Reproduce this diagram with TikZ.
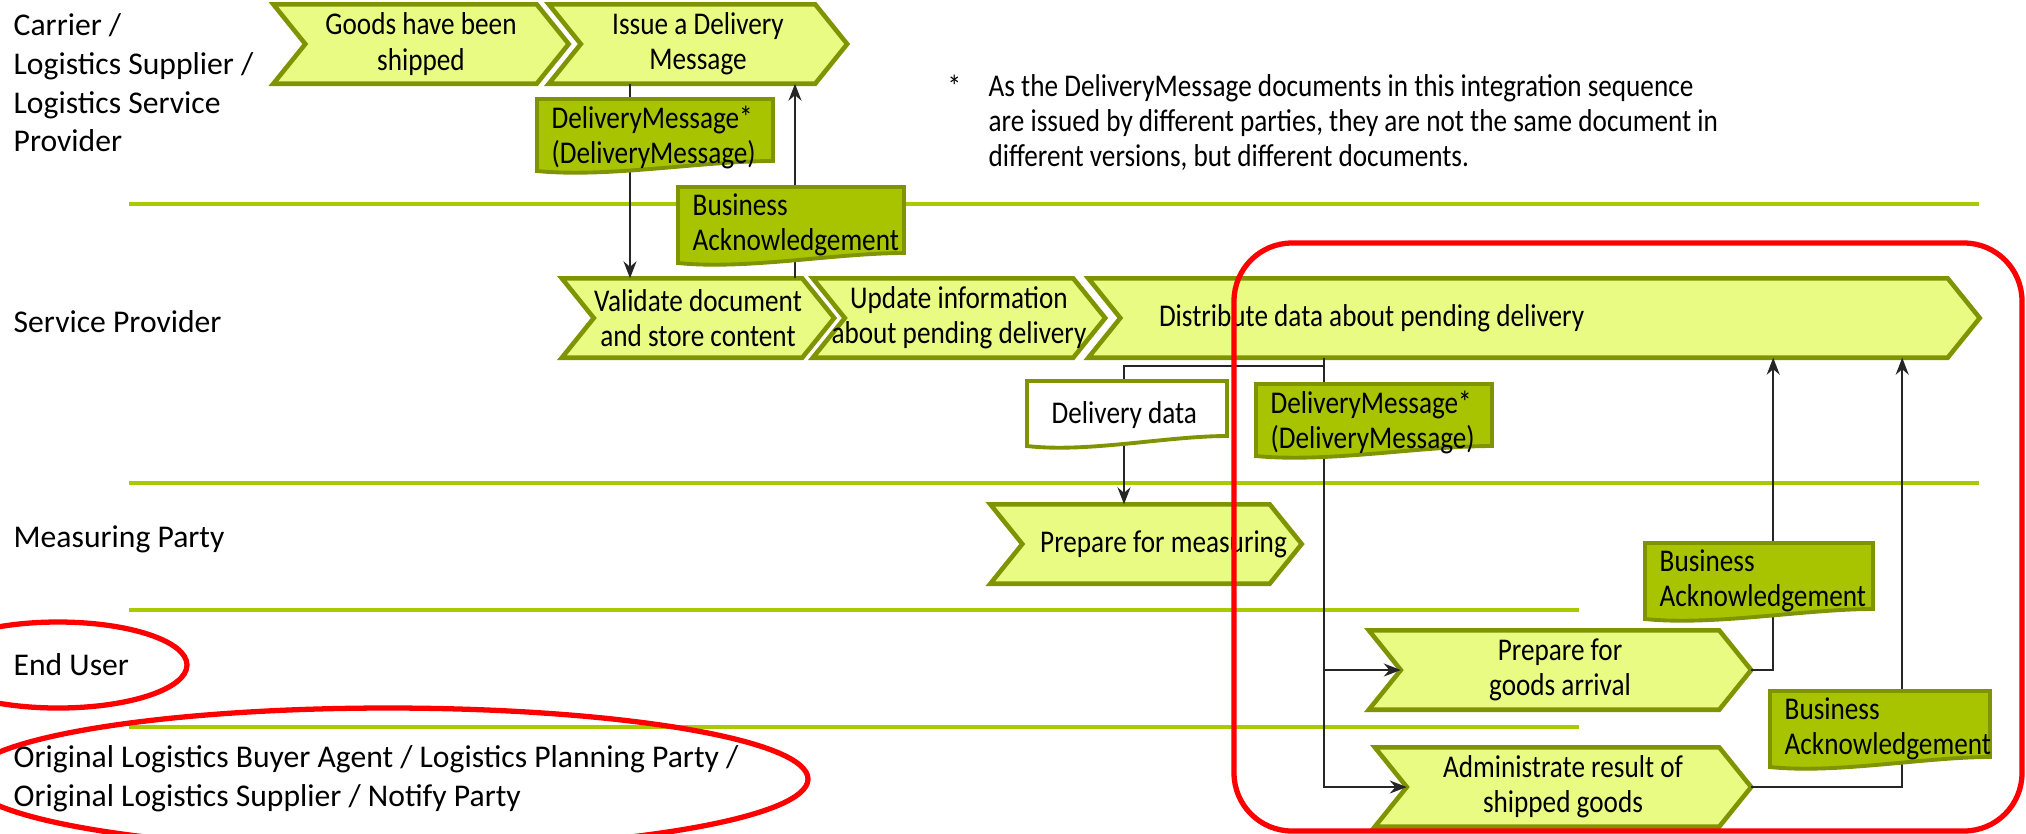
\documentclass[tikz,border=0pt]{standalone}
\usepackage{fontspec}
\setmainfont{Carlito}
\newfontfamily\boxfont{Carlito}[FakeStretch=0.86]
\usetikzlibrary{arrows,arrows.meta,shapes,positioning,calc,backgrounds}

\definecolor{chevfill}{HTML}{EAFB84}
\definecolor{chevedge}{HTML}{7F9400}
\definecolor{docgreen}{HTML}{A8C400}
\definecolor{lanegreen}{HTML}{AACA00}

\def\tipd{0.32cm}

% chevron outline behind a named node
\newcommand{\chevron}[1]{%
  \begin{pgfonlayer}{background}
    \draw[chevline] (#1.north west) -- ([xshift=-\tipd]#1.north east) -- (#1.east)
      -- ([xshift=-\tipd]#1.south east) -- (#1.south west) -- ([xshift=\tipd]#1.west) -- cycle;
  \end{pgfonlayer}}

% document with wavy bottom: x, y (top), width, body height, fill
\newcommand{\docshape}[5]{%
  \pgfmathsetmacro\xr{#1+#3}
  \pgfmathsetmacro\yb{#2-#4}
  \draw[docline, fill=#5] (#1,#2) -- (\xr,#2) -- (\xr,\yb)
    .. controls ({\xr-0.3*#3},\yb) and ({#1+0.3*#3},\yb-0.17) .. (#1,\yb-0.1) -- cycle;}

\begin{document}
\begin{tikzpicture}[>={Stealth[length=1.7mm,width=1.3mm]},font=\boxfont\fontsize{9}{10}\selectfont,
  chev/.style={minimum height=0.78cm,inner sep=0pt,align=center},
  chevline/.style={draw=chevedge,line width=1.3pt,fill=chevfill,line join=miter},
  docline/.style={draw=chevedge,line width=1.1pt},
  doc/.style={align=left,inner xsep=0.14cm,inner ysep=0.06cm},
  lane/.style={anchor=west,align=left,inner sep=0pt,font=\rmfamily\fontsize{9}{11}\selectfont},
  note/.style={inner sep=0pt},
  sep/.style={draw=lanegreen,line width=1.3pt},
  flow/.style={->,black!85,line width=0.5pt},
  redline/.style={draw=red,line width=1.5pt}]
\useasboundingbox (0,0) rectangle (20.26,-8.33);

% lanes
\node[lane] (carrier) at (0.13,-0.83) {Carrier /\\Logistics Supplier /\\Logistics Service\\Provider};
\node[lane] (provider) at (0.13,-3.22) {Service Provider};
\node[lane] (measurer) at (0.13,-5.39) {Measuring Party};
\node[lane] (enduser) at (0.13,-6.65) {End User};
\node[lane] (buyer) at (0.13,-7.79) {Original Logistics Buyer Agent / Logistics Planning Party /\\Original Logistics Supplier / Notify Party};
\draw[sep] (1.29,-2.04) -- (19.79,-2.04);
\draw[sep] (1.29,-4.83) -- (19.79,-4.83);
\draw[sep] (1.29,-6.10) -- (15.79,-6.10);
\draw[sep] (1.29,-7.27) -- (15.79,-7.27);

% process steps
\node[chev,minimum width=2.94cm] (goods) at (4.21,-0.44) {Goods have been\\shipped};
\node[chev,minimum width=2.97cm] (issue) at (6.98,-0.44) {Issue a Delivery\\Message};
\node[chev,minimum width=2.71cm] (validate) at (6.98,-3.18) {Validate document\\and store content};
\node[chev,minimum width=2.91cm] (update) at (9.59,-3.18) {Update information\\about pending delivery};
\node[chev,minimum width=8.90cm] (distribute) at (15.34,-3.18) {\makebox[7.5cm][l]{Distribute data about pending delivery}};
\node[chev,minimum width=3.10cm] (measuring) at (11.46,-5.44) {\hspace*{0.35cm}Prepare for measuring};
\node[chev,minimum width=3.81cm] (arrival) at (15.60,-6.70) {Prepare for\\goods arrival};
\node[chev,minimum width=3.75cm] (admin) at (15.63,-7.87) {Administrate result of\\shipped goods};
\foreach \n in {goods,issue,validate,update,distribute,measuring,arrival,admin} {\chevron{\n}}

% message flow
\coordinate (i1) at ($(issue.south)+(-0.68,0)$);
\draw[flow] (i1) -- (i1 |- validate.north);
\coordinate (v1) at ($(validate.north)+(0.97,0)$);
\draw[flow] (v1) -- (v1 |- issue.south);
\coordinate (d1) at ($(distribute.south)+(-2.10,0)$);
\coordinate (d2) at ($(d1)+(0,-0.08)$);
\coordinate (m1) at ($(measuring.north)+(-0.22,0)$);
\draw[flow] (d2) -| (m1);
\draw[flow] (d1) |- ($(arrival.west)+(\tipd,0)$);
\draw[flow] (d1) |- ($(admin.west)+(\tipd,0)$);
\coordinate (a1) at ($(arrival.east)+(0.22,0)$);
\draw[flow] (arrival.east) -- (a1) -- (a1 |- distribute.south);
\coordinate (a2) at ($(admin.east)+(1.51,0)$);
\draw[flow] (admin.east) -- (a2) -- (a2 |- distribute.south);

% documents
\docshape{5.37}{-0.99}{2.36}{0.62}{docgreen}
\node[doc,anchor=north west] (dm1) at (5.37,-0.99) {DeliveryMessage*\\(DeliveryMessage)};
\docshape{6.78}{-1.87}{2.26}{0.66}{docgreen}
\node[doc,anchor=north west] (ba1) at (6.78,-1.87) {Business\\Acknowledgement};
\docshape{10.27}{-3.81}{2.00}{0.55}{white}
\node[doc,anchor=west] (dd) at (10.27,-4.15) {\hspace*{0.1cm}Delivery data};
\docshape{12.56}{-3.84}{2.36}{0.62}{docgreen}
\node[doc,anchor=north west] (dm2) at (12.56,-3.84) {DeliveryMessage*\\(DeliveryMessage)};
\docshape{16.45}{-5.43}{2.28}{0.66}{docgreen}
\node[doc,anchor=north west] (ba2) at (16.45,-5.43) {Business\\Acknowledgement};
\docshape{17.70}{-6.91}{2.20}{0.66}{docgreen}
\node[doc,anchor=north west] (ba3) at (17.70,-6.91) {Business\\Acknowledgement};

% footnote
\node[note,anchor=north west] (star) at (9.47,-0.74) {*};
\node[note,anchor=north west,align=left] (footnote) at (9.88,-0.74) {As the DeliveryMessage documents in this integration sequence\\are issued by different parties, they are not the same document in\\different versions, but different documents.};

% highlights
\draw[redline,rounded corners=0.58cm] (12.34,-2.43) rectangle (20.22,-8.31);
\draw[redline] (0.58,-6.65) ellipse (1.29cm and 0.43cm);
\draw[redline] (3.88,-7.79) ellipse (4.2cm and 0.71cm);
\end{tikzpicture}
\end{document}
